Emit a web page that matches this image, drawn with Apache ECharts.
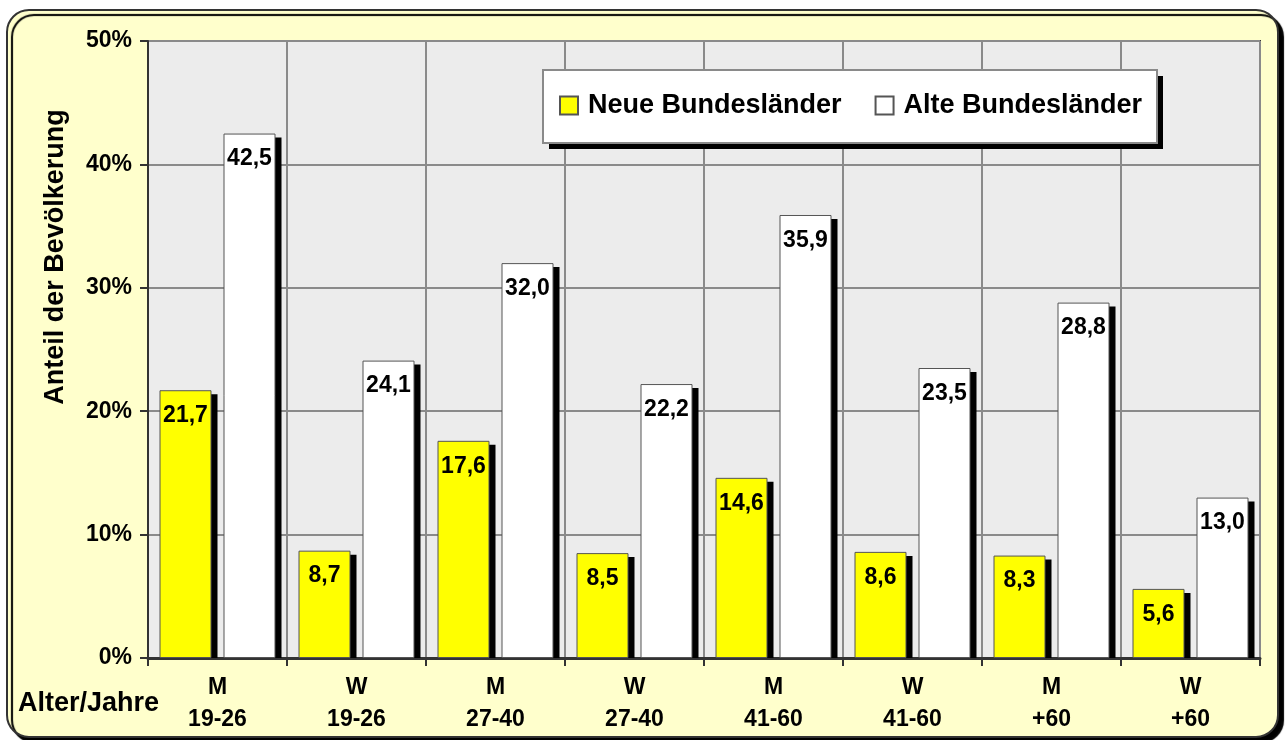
<!DOCTYPE html>
<html>
<head>
<meta charset="utf-8">
<script src="https://cdn.jsdelivr.net/npm/echarts@6/dist/echarts.min.js"></script>
<style>
html,body{margin:0;padding:0;background:#ffffff;}
#chart{width:1285px;height:740px;}
</style>
</head>
<body>
<div id="chart"></div>
<script>
const categories = ['M\n19-26','W\n19-26','M\n27-40','W\n27-40','M\n41-60','W\n41-60','M\n+60','W\n+60'];
const neueBundeslaender = [21.7, 8.7, 17.6, 8.5, 14.6, 8.6, 8.3, 5.6];
const alteBundeslaender = [42.5, 24.1, 32.0, 22.2, 35.9, 23.5, 28.8, 13.0];
const seriesNames = ['Neue Bundesländer', 'Alte Bundesländer'];
const yTicks = [0, 10, 20, 30, 40, 50];

const FONT = 'Arial, "Liberation Sans", sans-serif';
const BAR_W = 52, BAR_GAP = 12;

const shadowData = [];
neueBundeslaender.forEach((v, i) => shadowData.push([i, v, 0]));
alteBundeslaender.forEach((v, i) => shadowData.push([i, v, 1]));

const chart = echarts.init(document.getElementById('chart'), null, {renderer: 'canvas'});

function fmt(v) { return v.toFixed(1).replace('.', ','); }

const option = {
  backgroundColor: '#ffffff',
  animation: false,
  graphic: [
    {
      type: 'rect', z: -10, silent: true,
      shape: {x: 7, y: 10, width: 1271, height: 727, r: 22},
      style: {fill: '#FFFFCC', stroke: '#333333', lineWidth: 2,
              shadowColor: '#000', shadowOffsetX: 5, shadowOffsetY: 5, shadowBlur: 1}
    },
    {
      type: 'rect', z: 4, silent: true,
      shape: {x: 549, y: 76, width: 614, height: 73},
      style: {fill: '#000000'}
    },
    {
      type: 'rect', z: 5, silent: true,
      shape: {x: 543, y: 70, width: 614, height: 73},
      style: {fill: '#ffffff', stroke: '#8a8a8a', lineWidth: 2}
    },
    {
      type: 'text', z: 10, silent: true,
      x: 56, y: 257, rotation: Math.PI / 2,
      style: {text: 'Anteil der Bevölkerung', font: 'bold 27px ' + FONT, fill: '#000',
              textAlign: 'center', textVerticalAlign: 'middle'}
    },
    {
      type: 'text', z: 10, silent: true,
      x: 18, y: 704,
      style: {text: 'Alter/Jahre', font: 'bold 27px ' + FONT, fill: '#000',
              textAlign: 'left', textVerticalAlign: 'middle'}
    }
  ],
  grid: {
    left: 148, right: 25, top: 41, bottom: 82,
    show: true, backgroundColor: '#ECECEC', borderColor: '#333333', borderWidth: 2
  },
  legend: {
    left: 559, top: 92, z: 20,
    orient: 'horizontal',
    data: seriesNames,
    itemWidth: 18, itemHeight: 18, itemGap: 33,
    icon: 'rect',
    padding: 0,
    textStyle: {fontFamily: FONT, fontWeight: 'bold', fontSize: 27, color: '#000', padding: [0, 0, 0, 5]}
  },
  xAxis: {
    type: 'category',
    data: categories,
    boundaryGap: true,
    axisLine: {lineStyle: {color: '#333333', width: 3}},
    axisTick: {show: true, length: 8, lineStyle: {color: '#333333', width: 2}},
    splitLine: {show: true, lineStyle: {color: '#8a8a8a', width: 2}},
    axisLabel: {fontFamily: FONT, fontWeight: 'bold', fontSize: 23, color: '#000', lineHeight: 32, margin: 14, interval: 0}
  },
  yAxis: {
    type: 'value',
    min: 0, max: 50, interval: 10,
    axisLine: {show: true, lineStyle: {color: '#333333', width: 2}},
    axisTick: {show: true, length: 8, lineStyle: {color: '#333333', width: 2}},
    splitLine: {show: true, lineStyle: {color: '#8a8a8a', width: 2}},
    axisLabel: {fontFamily: FONT, fontWeight: 'bold', fontSize: 23, color: '#000', margin: 16,
                formatter: v => yTicks.includes(v) ? v + '%' : ''}
  },
  series: [
    {
      type: 'custom', name: 'shadow', z: 1, silent: true,
      data: shadowData,
      encode: {x: 0, y: 1},
      renderItem: function (params, api) {
        const idx = api.value(0), val = api.value(1), s = api.value(2);
        const top = api.coord([idx, val]);
        const base = api.coord([idx, 0]);
        const start = top[0] - (2 * BAR_W + BAR_GAP) / 2 + s * (BAR_W + BAR_GAP);
        return {
          type: 'rect',
          shape: {x: start + 6, y: top[1] + 4, width: BAR_W, height: base[1] - top[1] - 4},
          style: {fill: '#000000'}
        };
      }
    },
    {
      type: 'bar', name: seriesNames[0], z: 3,
      data: neueBundeslaender,
      barWidth: BAR_W, barGap: (BAR_GAP / BAR_W * 100) + '%',
      itemStyle: {color: '#FFFF00', borderColor: '#555555', borderWidth: 1},
      label: {show: true, position: 'insideTop', distance: 14, formatter: p => fmt(p.value),
              fontFamily: FONT, fontWeight: 'bold', fontSize: 23, color: '#000'}
    },
    {
      type: 'bar', name: seriesNames[1], z: 3,
      data: alteBundeslaender,
      barWidth: BAR_W,
      itemStyle: {color: '#FFFFFF', borderColor: '#555555', borderWidth: 1},
      label: {show: true, position: 'insideTop', distance: 14, formatter: p => fmt(p.value),
              fontFamily: FONT, fontWeight: 'bold', fontSize: 23, color: '#000'}
    }
  ]
};
chart.setOption(option);
</script>
</body>
</html>
